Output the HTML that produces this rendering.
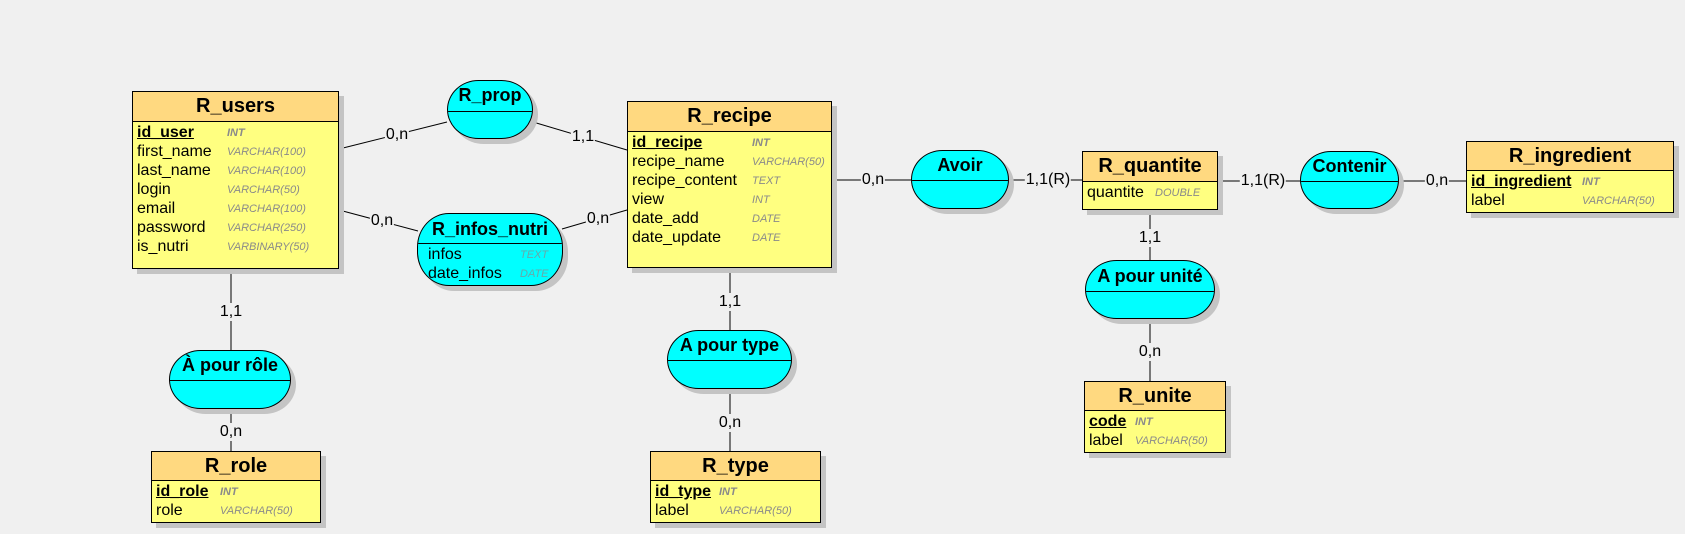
<!DOCTYPE html>
<html><head><meta charset="utf-8">
<style>
body{margin:0;width:1685px;height:534px;background:#f0f0f0;position:relative;overflow:hidden;font-family:"Liberation Sans",sans-serif;}
.ent{position:absolute;background:#ffff80;border:1px solid #000;box-shadow:5px 5px 0 #c4c4c4;box-sizing:border-box;}
.ent .h{background:#ffd980;border-bottom:1px solid #000;font-weight:bold;font-size:20px;text-align:center;box-sizing:border-box;}
.row{position:relative;height:19px;line-height:19px;font-size:16px;padding-left:4px;white-space:nowrap;color:#000;}
.row .t{position:absolute;font-size:11px;font-style:italic;color:#8a8a8a;top:1px;}
.row.pk{font-weight:bold;}
.row.pk span.n{text-decoration:underline;}
.row.pk .t{font-weight:bold;}
.as{position:absolute;background:#00ffff;border:1px solid #000;box-shadow:5px 5px 0 #c4c4c4;box-sizing:border-box;border-radius:32px/30px;overflow:hidden;}
.as .h{font-weight:bold;font-size:18px;text-align:center;border-bottom:1px solid #000;box-sizing:border-box;}
.as .row .t{color:#6aa;}
.lb{position:absolute;font-size:16px;background:#f0f0f0;line-height:18px;padding:0 1px;transform:translate(-50%,-50%);white-space:nowrap;}
svg{position:absolute;left:0;top:0;}
</style></head><body>
<svg width="1685" height="534">
<g stroke="#000" stroke-width="1" fill="none">
<line x1="339" y1="149" x2="447" y2="122"/>
<line x1="533" y1="122" x2="627" y2="150"/>
<line x1="339" y1="210" x2="418" y2="231"/>
<line x1="562" y1="229" x2="627" y2="210"/>
<line x1="832" y1="180" x2="1082" y2="180"/>
<line x1="1218" y1="181" x2="1466" y2="181"/>
<line x1="1150" y1="210" x2="1150" y2="381"/>
<line x1="231" y1="269" x2="231" y2="451"/>
<line x1="730" y1="268" x2="730" y2="451"/>
</g></svg>

<div class="ent" style="left:132px;top:91px;width:207px;height:178px">
<div class="h" style="height:30px;line-height:29px">R_users</div>
<div style="padding-top:1px">
<div class="row pk"><span class="n">id_user</span><span class="t" style="left:94px">INT</span></div>
<div class="row">first_name<span class="t" style="left:94px">VARCHAR(100)</span></div>
<div class="row">last_name<span class="t" style="left:94px">VARCHAR(100)</span></div>
<div class="row">login<span class="t" style="left:94px">VARCHAR(50)</span></div>
<div class="row">email<span class="t" style="left:94px">VARCHAR(100)</span></div>
<div class="row">password<span class="t" style="left:94px">VARCHAR(250)</span></div>
<div class="row">is_nutri<span class="t" style="left:94px">VARBINARY(50)</span></div>
</div></div>

<div class="ent" style="left:627px;top:101px;width:205px;height:167px">
<div class="h" style="height:30px;line-height:29px">R_recipe</div>
<div style="padding-top:1px">
<div class="row pk"><span class="n">id_recipe</span><span class="t" style="left:124px">INT</span></div>
<div class="row">recipe_name<span class="t" style="left:124px">VARCHAR(50)</span></div>
<div class="row">recipe_content<span class="t" style="left:124px">TEXT</span></div>
<div class="row">view<span class="t" style="left:124px">INT</span></div>
<div class="row">date_add<span class="t" style="left:124px">DATE</span></div>
<div class="row">date_update<span class="t" style="left:124px">DATE</span></div>
</div></div>

<div class="ent" style="left:1082px;top:151px;width:136px;height:59px">
<div class="h" style="height:30px;line-height:29px">R_quantite</div>
<div class="row" style="margin-top:1px">quantite<span class="t" style="left:72px">DOUBLE</span></div>
</div>

<div class="ent" style="left:1466px;top:141px;width:208px;height:72px">
<div class="h" style="height:29px;line-height:28px">R_ingredient</div>
<div style="padding-top:1px">
<div class="row pk"><span class="n">id_ingredient</span><span class="t" style="left:115px">INT</span></div>
<div class="row">label<span class="t" style="left:115px">VARCHAR(50)</span></div>
</div></div>

<div class="ent" style="left:1084px;top:381px;width:142px;height:72px">
<div class="h" style="height:29px;line-height:28px">R_unite</div>
<div style="padding-top:1px">
<div class="row pk"><span class="n">code</span><span class="t" style="left:50px">INT</span></div>
<div class="row">label<span class="t" style="left:50px">VARCHAR(50)</span></div>
</div></div>

<div class="ent" style="left:151px;top:451px;width:170px;height:72px">
<div class="h" style="height:29px;line-height:28px">R_role</div>
<div style="padding-top:1px">
<div class="row pk"><span class="n">id_role</span><span class="t" style="left:68px">INT</span></div>
<div class="row">role<span class="t" style="left:68px">VARCHAR(50)</span></div>
</div></div>

<div class="ent" style="left:650px;top:451px;width:171px;height:72px">
<div class="h" style="height:29px;line-height:28px">R_type</div>
<div style="padding-top:1px">
<div class="row pk"><span class="n">id_type</span><span class="t" style="left:68px">INT</span></div>
<div class="row">label<span class="t" style="left:68px">VARCHAR(50)</span></div>
</div></div>

<div class="as" style="left:447px;top:80px;width:86px;height:59px">
<div class="h" style="height:31px;line-height:28px">R_prop</div></div>

<div class="as" style="left:417px;top:213px;width:146px;height:73px;border-radius:32px/34px">
<div class="h" style="height:30px;line-height:30px;font-size:18px">R_infos_nutri</div>
<div style="padding-top:1px;padding-left:6px">
<div class="row">infos<span class="t" style="left:96px">TEXT</span></div>
<div class="row">date_infos<span class="t" style="left:96px">DATE</span></div>
</div></div>

<div class="as" style="left:911px;top:150px;width:98px;height:59px">
<div class="h" style="height:30px;line-height:28px">Avoir</div></div>

<div class="as" style="left:1300px;top:151px;width:99px;height:58px">
<div class="h" style="height:30px;line-height:28px">Contenir</div></div>

<div class="as" style="left:1085px;top:260px;width:130px;height:59px">
<div class="h" style="height:31px;line-height:30px">A pour unité</div></div>

<div class="as" style="left:169px;top:350px;width:122px;height:59px">
<div class="h" style="height:30px;line-height:29px">À pour rôle</div></div>

<div class="as" style="left:667px;top:330px;width:125px;height:59px">
<div class="h" style="height:30px;line-height:29px">A pour type</div></div>

<div class="lb" style="left:397px;top:135px">0,n</div>
<div class="lb" style="left:583px;top:137px">1,1</div>
<div class="lb" style="left:382px;top:221px">0,n</div>
<div class="lb" style="left:598px;top:219px">0,n</div>
<div class="lb" style="left:873px;top:180px">0,n</div>
<div class="lb" style="left:1048px;top:180px">1,1(R)</div>
<div class="lb" style="left:1263px;top:181px">1,1(R)</div>
<div class="lb" style="left:1437px;top:181px">0,n</div>
<div class="lb" style="left:1150px;top:238px">1,1</div>
<div class="lb" style="left:1150px;top:352px">0,n</div>
<div class="lb" style="left:231px;top:312px">1,1</div>
<div class="lb" style="left:231px;top:432px">0,n</div>
<div class="lb" style="left:730px;top:302px">1,1</div>
<div class="lb" style="left:730px;top:423px">0,n</div>
</body></html>
